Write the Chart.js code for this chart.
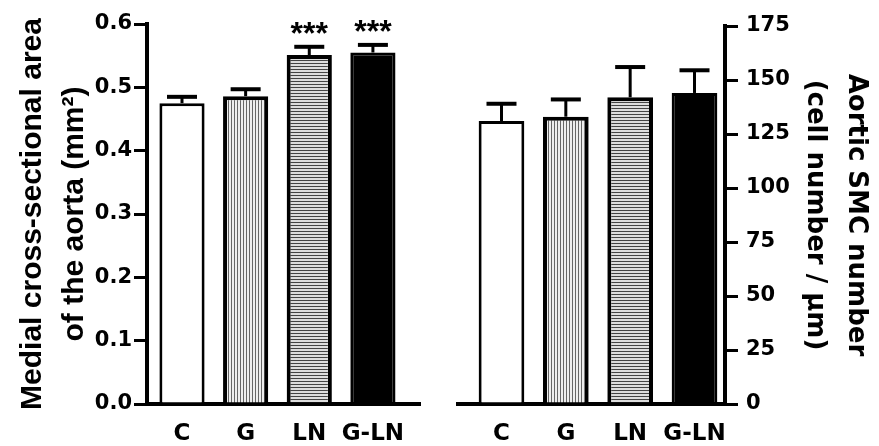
<!DOCTYPE html>
<html>
<head>
<meta charset="utf-8">
<script src="https://cdn.jsdelivr.net/npm/chart.js@4"></script>
<style>
  html, body { margin: 0; padding: 0; background: #fff; }
  #wrap { position: relative; width: 879px; height: 446px; overflow: hidden; }
  canvas { position: absolute; top: 0; }
  #areaChart { left: 0; }
  #smcChart { left: 440px; }
</style>
</head>
<body>
<div id="wrap">
  <canvas id="areaChart" width="440" height="446"></canvas>
  <canvas id="smcChart" width="439" height="446"></canvas>
</div>
<script>
// groups along the x axis
const groups = ['C', 'G', 'LN', 'G-LN'];

// left panel: medial cross-sectional area (mm²), mean and error
const areaMean = [0.475, 0.486, 0.551, 0.555];
const areaErr = [0.010, 0.011, 0.013, 0.012];
const areaStars = ['', '', '***', '***'];

// right panel: aortic SMC number (cells / µm), mean and error
const smcMean = [131, 133, 142, 144];
const smcErr = [8, 8, 14, 10.5];

Chart.defaults.font.family = 'Liberation Sans';
Chart.defaults.color = '#000';

const tickFontY = { family: 'DejaVu Sans', size: 21, weight: 'bold' };
const tickFontX = { family: 'DejaVu Sans', size: 23, weight: 'bold' };

/**
 * Striped fill like the scanned hatching of the original figure
 */
function stripes(target, vertical, line, bg) {
  const c = document.createElement('canvas');
  c.width = 3; c.height = 3;
  const g = c.getContext('2d');
  g.fillStyle = bg;
  g.fillRect(0, 0, 3, 3);
  g.fillStyle = line;
  if (vertical) g.fillRect(0, 0, 1, 3);
  else g.fillRect(0, 0, 3, 1);
  return target.getContext('2d').createPattern(c, 'repeat');
}

// error bars + significance stars, drawn from the bar elements and y scale
const errorBars = {
  id: 'errorBars',
  afterDatasetsDraw(chart, args, opts) {
    const { ctx } = chart;
    const yScale = chart.scales.y;
    const meta = chart.getDatasetMeta(0);
    const values = chart.data.datasets[0].data;
    ctx.save();
    ctx.strokeStyle = '#000';
    meta.data.forEach((bar, i) => {
      const top = yScale.getPixelForValue(values[i].y + opts.err[i]);
      ctx.lineWidth = 3;
      ctx.beginPath();
      ctx.moveTo(bar.x, bar.y);
      ctx.lineTo(bar.x, top);
      ctx.stroke();
      ctx.lineWidth = 4;
      ctx.beginPath();
      ctx.moveTo(bar.x - 15, top);
      ctx.lineTo(bar.x + 15, top);
      ctx.stroke();
      if (opts.stars && opts.stars[i]) {
        ctx.fillStyle = '#000';
        ctx.font = 'bold 32px "Liberation Sans"';
        ctx.textAlign = 'center';
        ctx.textBaseline = 'alphabetic';
        ctx.fillText(opts.stars[i], bar.x, top - 3);
      }
    });
    ctx.restore();
  }
};

function xScale(min, max) {
  return {
    type: 'linear',
    min: min,
    max: max,
    offset: false,
    afterBuildTicks: s => { s.ticks = groups.map((_, i) => ({ value: i })); },
    ticks: { callback: v => groups[v], font: tickFontX, color: '#000', padding: 8, autoSkip: false, maxRotation: 0 },
    grid: { display: false },
    border: { display: true, color: '#000', width: 4 },
    afterFit: s => { s.height = 42; }
  };
}

const yGrid = { drawOnChartArea: false, drawTicks: true, tickLength: 13, tickWidth: 3, lineWidth: 3, tickColor: '#000', color: '#000' };

const areaEl = document.getElementById('areaChart');
new Chart(areaEl, {
  type: 'bar',
  data: {
    datasets: [{
      data: areaMean.map((v, i) => ({ x: i, y: v })),
      backgroundColor: ['#fff', stripes(areaEl, true, '#666', '#eee'), stripes(areaEl, false, '#444', '#ddd'), '#000'],
      borderColor: '#000',
      borderWidth: [3, 4, 4, 3],
      categoryPercentage: 1,
      barPercentage: 0.71
    }]
  },
  options: {
    responsive: false,
    animation: false,
    layout: { padding: { left: 0, top: 24, right: 20, bottom: 0 } },
    plugins: {
      legend: { display: false },
      tooltip: { enabled: false },
      errorBars: { err: areaErr, stars: areaStars }
    },
    scales: {
      x: xScale(-0.55, 3.74),
      y: {
        min: 0,
        max: 0.6,
        ticks: { stepSize: 0.1, callback: v => v.toFixed(1), font: tickFontY, color: '#000', padding: 2 },
        grid: yGrid,
        border: { color: '#000', width: 4 },
        title: {
          display: true,
          text: ['Medial cross-sectional area', 'of the aorta (mm²)'],
          font: { family: 'Liberation Sans', size: 30, weight: 'bold', lineHeight: 1.4 },
          color: '#000',
          padding: { top: 12, bottom: 0 }
        },
        afterFit: s => { s.width = 147; }
      }
    }
  },
  plugins: [errorBars]
});

const smcEl = document.getElementById('smcChart');
new Chart(smcEl, {
  type: 'bar',
  data: {
    datasets: [{
      data: smcMean.map((v, i) => ({ x: i, y: v })),
      backgroundColor: ['#fff', stripes(smcEl, true, '#666', '#eee'), stripes(smcEl, false, '#444', '#ddd'), '#000'],
      borderColor: '#000',
      borderWidth: [3, 4, 4, 3],
      categoryPercentage: 1,
      barPercentage: 0.71
    }]
  },
  options: {
    responsive: false,
    animation: false,
    layout: { padding: { left: 18, top: 26, right: 0, bottom: 0 } },
    plugins: {
      legend: { display: false },
      tooltip: { enabled: false },
      errorBars: { err: smcErr }
    },
    scales: {
      x: xScale(-0.676, 3.474),
      y: {
        position: 'right',
        min: 0,
        max: 175,
        ticks: { stepSize: 25, font: tickFontY, color: '#000', padding: 8 },
        grid: yGrid,
        border: { color: '#000', width: 4 },
        title: {
          display: true,
          text: ['Aortic SMC number', '(cell number / µm)'],
          font: { family: 'DejaVu Sans', size: 26, weight: 'bold', lineHeight: 1.6 },
          color: '#000',
          padding: { top: 2, bottom: 0 }
        },
        afterFit: s => { s.width = 154; }
      }
    }
  },
  plugins: [errorBars]
});
</script>
</body>
</html>
